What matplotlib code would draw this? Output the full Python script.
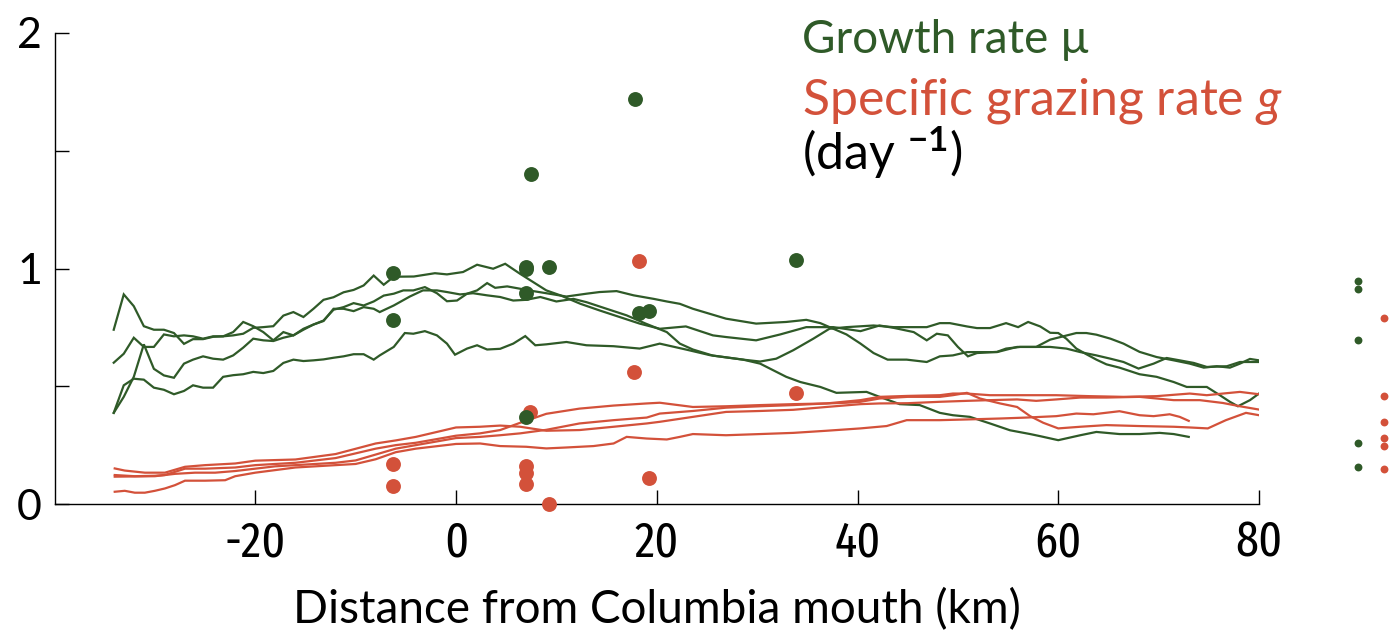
import os
import matplotlib
matplotlib.use("Agg")
import matplotlib.pyplot as plt
from matplotlib import font_manager
from matplotlib.font_manager import FontProperties

# ---------------- fonts ----------------
plt.rcParams['font.family'] = ['Lato', 'DejaVu Sans']
plt.rcParams['mathtext.fontset'] = 'custom'
plt.rcParams['mathtext.rm'] = 'Lato'
plt.rcParams['mathtext.it'] = 'Lato:italic'
plt.rcParams['mathtext.bf'] = 'Lato:bold'


def pick_condensed():
    # narrowest upright regular face that is installed, for the tick numbers
    skip = ['bold', 'italic', 'light', 'thin', 'black', 'medium', 'oblique', 'mono']
    ranks = [('extracondensed', 0), ('condensed', 2), ('narrow', 3)]
    best = None
    for f in font_manager.fontManager.ttflist:
        base = os.path.basename(f.fname).lower()
        if any(k in base for k in skip):
            continue
        for key, r in ranks:
            if key in base:
                if 'semicondensed' in base:
                    r = 4
                if best is None or r < best[0]:
                    best = (r, f.fname)
                break
    if best is None:
        return FontProperties(family='Lato')
    return FontProperties(fname=best[1])


tick_font = pick_condensed()

GREEN = '#2f5a28'
RED = '#d3513a'

# ---------------- growth rate transects (day^-1) ----------------
ga_x = [-34.1, -33.1, -32.1, -31.1, -30.1, -29.1, -28.1, -27.1, -26.2, -25.2, -24.2, -23.2, -22.2, -21.2,
        -20.2, -19.2, -18.2, -17.2, -16.2, -15.2, -14.2, -13.2, -12.2, -11.2, -10.2, -9.2, -8.2, -7.2, -6.2,
        -4.2, -2.1, -0.9, 0.7, 2.1, 3.7, 4.9, 6.4, 7.7, 9.0, 10.4, 12.4, 14.3, 16.3, 18.3, 20.3, 22.9, 25.6,
        26.9, 29.9, 32.3, 34.9, 37.6, 40.3, 42.2, 43.6, 45.6, 46.9, 47.9, 49.0, 50.0, 51.0, 51.9, 53.9, 54.8,
        56.2, 57.8, 59.2, 60.5, 61.8, 62.8, 63.8, 65.2, 66.5, 68.1, 69.8, 71.5, 73.1, 74.5, 75.8, 77.1, 78.1,
        79.1, 80.0]
ga_y = [0.74, 0.89, 0.84, 0.755, 0.74, 0.74, 0.726, 0.68, 0.70, 0.70, 0.71, 0.712, 0.716, 0.723,
        0.748, 0.751, 0.755, 0.80, 0.815, 0.794, 0.829, 0.867, 0.878, 0.899, 0.909, 0.928, 0.97, 0.931, 0.965,
        0.966, 0.98, 0.975, 0.985, 1.016, 0.999, 1.02, 0.977, 0.942, 0.907, 0.886, 0.85, 0.822, 0.794, 0.766,
        0.744, 0.754, 0.716, 0.709, 0.695, 0.72, 0.751, 0.751, 0.734, 0.758, 0.748, 0.73, 0.695, 0.723, 0.716,
        0.667, 0.627, 0.641, 0.646, 0.66, 0.667, 0.667, 0.698, 0.712, 0.726, 0.726, 0.719, 0.702, 0.681,
        0.646, 0.624, 0.61, 0.596, 0.579, 0.585, 0.579, 0.596, 0.616, 0.61]

gb_x = [-34.1, -33.1, -32.1, -31.1, -30.1, -29.1, -28.1, -27.1, -26.2, -25.2, -24.2, -23.2, -22.2, -21.2,
        -20.2, -19.2, -18.2, -17.2, -16.2, -15.2, -14.2, -13.2, -12.2, -11.2, -10.2, -9.2, -8.2, -7.2, -6.2,
        -5.25, -4.25, -3.1, -1.9, -0.9, 0.1, 1.1, 2.1, 3.1, 3.9, 5.1, 6.4, 7.7, 9.0, 11.0, 13.0, 14.3, 16.0,
        17.7, 19.7, 21.0, 22.3, 23.6, 26.9, 29.9, 32.9, 34.9, 36.3, 37.6, 38.9, 40.3, 41.6, 43.0, 44.9, 46.9,
        48.2, 49.5, 50.9, 52.5, 53.9, 55.9, 57.8, 59.2, 60.8, 62.2, 63.8, 65.2, 66.5, 68.0, 69.5, 70.8, 72.1,
        73.5, 74.8, 76.8, 78.1, 80.0]
gb_y = [0.60, 0.638, 0.706, 0.667, 0.667, 0.72, 0.712, 0.716, 0.712, 0.702, 0.712, 0.712, 0.73, 0.773,
        0.755, 0.73, 0.695, 0.73, 0.716, 0.744, 0.762, 0.779, 0.825, 0.836, 0.853, 0.843, 0.86, 0.885, 0.893,
        0.907, 0.907, 0.921, 0.895, 0.861, 0.864, 0.893, 0.907, 0.938, 0.918, 0.924, 0.914, 0.904, 0.895,
        0.881, 0.893, 0.90, 0.904, 0.886, 0.871, 0.86, 0.85, 0.829, 0.787, 0.766, 0.773, 0.782, 0.768, 0.744,
        0.72, 0.681, 0.641, 0.613, 0.613, 0.603, 0.627, 0.631, 0.645, 0.645, 0.645, 0.667, 0.667, 0.667,
        0.66, 0.645, 0.631, 0.617, 0.603, 0.575, 0.596, 0.62, 0.61, 0.599, 0.582, 0.585, 0.603, 0.603]

gc_x = [-34.1, -33.1, -32.1, -31.1, -30.1, -29.1, -28.1, -27.1, -26.2, -25.2, -24.2, -23.2, -22.2, -21.2,
        -20.2, -19.2, -18.2, -17.2, -16.2, -15.2, -14.2, -13.2, -12.2, -11.2, -10.2, -9.2, -8.2, -7.6, -6.2,
        -4.6, -3.3, -1.9, -0.9, 0.4, 1.7, 3.1, 4.4, 5.7, 7.0, 8.4, 10.0, 11.7, 13.0, 15.0, 17.0, 18.9, 21.0,
        22.3, 23.6, 25.6, 28.6, 30.3, 31.9, 33.6, 35.6, 37.2, 38.9, 41.6, 43.6, 46.9, 48.2, 49.2, 50.9, 51.9,
        53.2, 54.8, 56.0, 57.0, 58.2, 59.2, 60.0, 60.8, 61.8, 62.8, 63.8, 64.8, 66.1, 67.1, 68.1, 69.8, 71.5,
        72.8, 74.8, 76.1, 77.1, 77.9, 79.1, 80.0]
gc_y = [0.387, 0.455, 0.54, 0.678, 0.574, 0.546, 0.536, 0.596, 0.613, 0.627, 0.617, 0.613, 0.631, 0.664,
        0.702, 0.695, 0.692, 0.706, 0.716, 0.74, 0.762, 0.777, 0.829, 0.829, 0.819, 0.836, 0.829, 0.815, 0.843,
        0.881, 0.907, 0.907, 0.90, 0.89, 0.895, 0.886, 0.879, 0.864, 0.867, 0.879, 0.86, 0.871, 0.857, 0.829,
        0.801, 0.766, 0.73, 0.681, 0.656, 0.63, 0.613, 0.605, 0.617, 0.653, 0.702, 0.744, 0.751, 0.758, 0.751,
        0.751, 0.768, 0.768, 0.754, 0.747, 0.747, 0.768, 0.751, 0.773, 0.754, 0.727, 0.726, 0.702, 0.66,
        0.636, 0.613, 0.593, 0.579, 0.565, 0.551, 0.54, 0.518, 0.497, 0.497, 0.462, 0.434, 0.415, 0.441, 0.469]

gd_x = [-34.1, -33.1, -32.1, -31.1, -30.1, -29.1, -28.1, -27.1, -26.2, -25.2, -24.2, -23.2, -22.2, -21.2,
        -20.2, -19.2, -18.2, -17.2, -16.2, -15.2, -14.2, -13.2, -12.2, -11.2, -10.2, -9.2, -8.2, -7.6, -6.2,
        -5.1, -4.25, -3.1, -1.9, -0.9, -0.1, 1.1, 2.1, 3.1, 4.4, 5.7, 6.9, 7.9, 9.0, 11.0, 13.0, 15.7, 18.3,
        20.3, 22.9, 25.3, 28.6, 30.3, 32.9, 34.3, 36.3, 37.9, 40.9, 42.2, 44.2, 46.2, 48.2, 49.5, 51.2, 53.2,
        55.2, 57.2, 58.2, 60.0, 62.2, 63.8, 66.1, 68.1, 70.1, 71.5, 73.0]
gd_y = [0.387, 0.504, 0.532, 0.528, 0.494, 0.485, 0.466, 0.48, 0.504, 0.494, 0.494, 0.54, 0.547, 0.551,
        0.561, 0.556, 0.565, 0.599, 0.613, 0.607, 0.61, 0.614, 0.621, 0.627, 0.636, 0.636, 0.613, 0.631, 0.667,
        0.726, 0.723, 0.734, 0.716, 0.681, 0.634, 0.66, 0.674, 0.656, 0.659, 0.681, 0.713, 0.674, 0.678, 0.688,
        0.674, 0.67, 0.66, 0.681, 0.656, 0.632, 0.613, 0.596, 0.54, 0.518, 0.497, 0.472, 0.476, 0.455, 0.424,
        0.42, 0.387, 0.377, 0.37, 0.342, 0.313, 0.297, 0.288, 0.271, 0.292, 0.306, 0.297, 0.297, 0.302,
        0.297, 0.285]

# ---------------- specific grazing rate transects (day^-1) ----------------
ra_x = [-34, -33, -31, -29, -27, -25, -22, -20, -16, -12, -8, -6, -4, -2, 0, 2.4, 4.4, 6.4, 9, 12.3,
        15.7, 19, 20.3, 23.6, 26.9, 30.3, 33.6, 36.9, 40.3, 42.2, 45, 48.2, 50.9, 53.2, 55.9, 57.8, 59.8,
        62.2, 64.8, 68.1, 71.5, 74.1, 76.4, 78.1, 80]
ra_y = [0.151, 0.142, 0.133, 0.133, 0.158, 0.165, 0.172, 0.184, 0.189, 0.212, 0.257, 0.27, 0.285, 0.305,
        0.325, 0.328, 0.333, 0.328, 0.311, 0.314, 0.328, 0.342, 0.349, 0.37, 0.391, 0.395, 0.40, 0.412,
        0.424, 0.427, 0.428, 0.434, 0.438, 0.441, 0.444, 0.438, 0.444, 0.452, 0.452, 0.455, 0.441, 0.441,
        0.429, 0.415, 0.401]

rb_x = [-34, -32, -30, -29, -27, -25, -22, -20, -16, -12, -8, -6, -4, -2, 0, 2.4, 4.4, 6.4, 9, 12.3,
        15.7, 19, 20.3, 23.6, 26.9, 30.3, 33.6, 36.9, 40.3, 42.2, 45, 48.2, 49.5, 50.9, 53.2, 56.5, 59.8,
        63.1, 66.5, 69.8, 73.1, 74.8, 76.4, 78.1, 80]
rb_y = [0.123, 0.118, 0.12, 0.123, 0.15, 0.15, 0.155, 0.165, 0.175, 0.195, 0.235, 0.25, 0.26, 0.275,
        0.29, 0.30, 0.314, 0.345, 0.383, 0.405, 0.418, 0.427, 0.43, 0.412, 0.415, 0.42, 0.424, 0.427, 0.441,
        0.455, 0.459, 0.462, 0.469, 0.469, 0.462, 0.462, 0.462, 0.458, 0.455, 0.458, 0.469, 0.462, 0.469,
        0.476, 0.466]

rc_x = [-34, -30, -28, -26, -24, -22, -20, -18, -16, -12, -10, -8, -6, -4, -2, 0, 2.4, 4.4, 6.4, 9,
        12.3, 15.7, 19, 20.3, 23.6, 26.9, 30.3, 33.6, 36.9, 38.9, 40.3, 42.2, 45, 48.2, 49.5, 50.9, 52.2,
        54.2, 55.9, 57.2, 58.5, 60, 62.2, 64.8, 68.1, 71.5, 73.1, 74.9, 76.7, 78.7, 80]
rc_y = [0.116, 0.118, 0.128, 0.133, 0.133, 0.14, 0.15, 0.16, 0.165, 0.175, 0.185, 0.21, 0.235, 0.25,
        0.265, 0.28, 0.285, 0.292, 0.30, 0.315, 0.342, 0.356, 0.367, 0.384, 0.395, 0.409, 0.415, 0.42, 0.427,
        0.43, 0.434, 0.448, 0.455, 0.455, 0.462, 0.472, 0.448, 0.427, 0.412, 0.373, 0.345, 0.321, 0.328,
        0.335, 0.331, 0.328, 0.325, 0.321, 0.356, 0.387, 0.377]

rd_x = [-34, -33, -32, -31, -30, -29, -28, -27, -25, -23, -22, -20, -18, -16, -14, -12, -10, -8, -6, -4,
        -2, 0, 2.4, 4.4, 7, 9, 11, 13.7, 15.7, 17, 19, 21, 22.3, 23.6, 26.9, 30.3, 33.6, 36.9, 40.3, 42.9,
        44.9, 46.9, 48.2, 50.9, 54.2, 56.8, 59.8, 61.8, 63.5, 66.1, 68.1, 69.5, 71.1, 72.1, 73]
rd_y = [0.052, 0.056, 0.048, 0.048, 0.056, 0.066, 0.08, 0.099, 0.099, 0.101, 0.118, 0.133, 0.144, 0.155,
        0.16, 0.165, 0.17, 0.19, 0.22, 0.235, 0.245, 0.255, 0.257, 0.246, 0.243, 0.236, 0.24, 0.246, 0.257,
        0.285, 0.278, 0.274, 0.285, 0.297, 0.292, 0.297, 0.302, 0.311, 0.321, 0.331, 0.356, 0.356, 0.356,
        0.359, 0.363, 0.367, 0.373, 0.384, 0.381, 0.394, 0.377, 0.373, 0.381, 0.37, 0.353]

# ---------------- station measurements ----------------
mu_x = [-6.3, -6.3, 7.0, 7.0, 7.0, 7.0, 7.5, 9.3, 17.8, 18.2, 19.2, 33.9]
mu_y = [0.983, 0.78, 1.008, 0.996, 0.894, 0.368, 1.403, 1.008, 1.72, 0.813, 0.818, 1.038]
gr_x = [-6.3, -6.3, 7.0, 7.0, 7.0, 7.4, 9.3, 17.7, 18.2, 19.2, 33.9]
gr_y = [0.17, 0.076, 0.161, 0.131, 0.085, 0.39, 0.0, 0.559, 1.03, 0.11, 0.47]

# offshore values shown beside the axis
mu_side = [0.949, 0.914, 0.698, 0.260, 0.158]
gr_side = [0.789, 0.459, 0.347, 0.281, 0.247, 0.148]

# ---------------- plot ----------------
fig = plt.figure(figsize=(14, 6.35), dpi=100)
ax = fig.add_axes([54.5 / 1400, 1 - 504 / 635, (1259 - 54.5) / 1400, (504 - 33) / 635])

for xs, ys in [(ga_x, ga_y), (gb_x, gb_y), (gc_x, gc_y), (gd_x, gd_y)]:
    ax.plot(xs, ys, color=GREEN, lw=1.6, solid_joinstyle='miter')
for xs, ys in [(ra_x, ra_y), (rb_x, rb_y), (rc_x, rc_y), (rd_x, rd_y)]:
    ax.plot(xs, ys, color=RED, lw=1.6, solid_joinstyle='miter')

ax.scatter(gr_x, gr_y, s=115, color=RED, lw=0, clip_on=False, zorder=3)
ax.scatter(mu_x, mu_y, s=115, color=GREEN, lw=0, clip_on=False, zorder=4)
ax.scatter([89.9] * len(mu_side), mu_side, s=32, color=GREEN, lw=0, clip_on=False, zorder=4)
ax.scatter([92.5] * len(gr_side), gr_side, s=32, color=RED, lw=0, clip_on=False, zorder=4)

ax.set_xlim(-40, 80)
ax.set_ylim(0, 2)
ax.spines['top'].set_visible(False)
ax.spines['right'].set_visible(False)
for s in ['left', 'bottom']:
    ax.spines[s].set_linewidth(1.0)

ax.set_yticks([0, 0.5, 1, 1.5, 2])
ax.set_yticklabels(['0', '', '1', '', '2'])
ax.set_xticks([-20, 0, 20, 40, 60, 80])
ax.set_xticklabels(['-20', '0', '20', '40', '60', '80'], fontproperties=tick_font, fontsize=36)
ax.tick_params(axis='y', direction='in', length=10, width=1.0, labelsize=31, pad=9)
ax.tick_params(axis='x', direction='in', length=10, width=1.0, pad=11)
ax.set_xlabel('Distance from Columbia mouth (km)', fontsize=33, labelpad=15)

fig.text(802 / 1400, 1 - 53 / 635, 'Growth rate \u00b5', color=GREEN, fontsize=33,
         ha='left', va='baseline')
fig.text(802 / 1400, 1 - 115 / 635, 'Specific grazing rate $\\mathit{g}$', color=RED, fontsize=36,
         ha='left', va='baseline')
fig.text(802 / 1400, 1 - 170 / 635, '(day $^{\\mathbf{\u2212}\\mathbf{1}}$)', color='black', fontsize=36,
         ha='left', va='baseline')

fig.savefig('out.png', dpi=100)
